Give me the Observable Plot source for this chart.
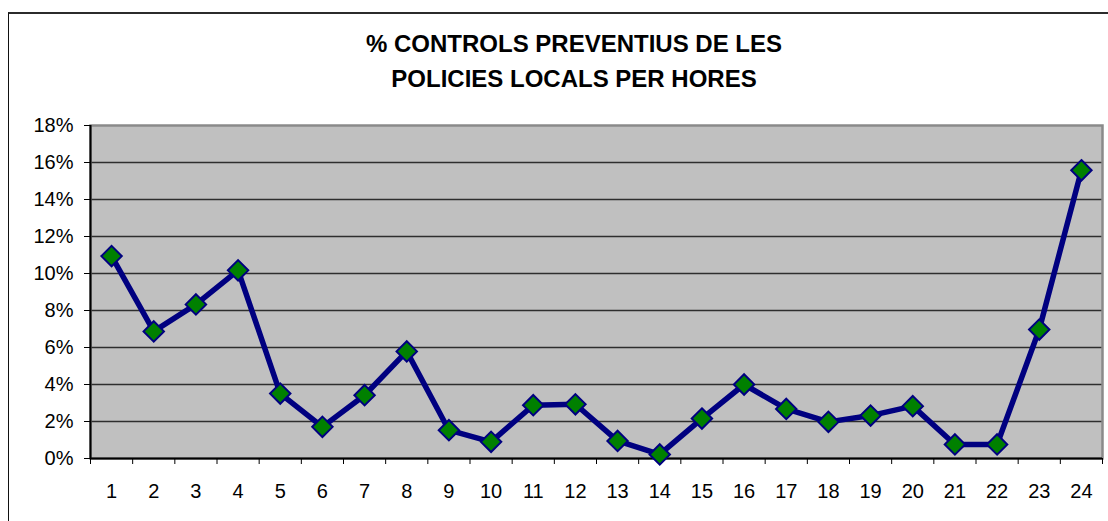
<!DOCTYPE html>
<html><head><meta charset="utf-8">
<script src="https://cdn.jsdelivr.net/npm/d3@7"></script>
<script src="https://cdn.jsdelivr.net/npm/@observablehq/plot@0.6"></script>
<style>
html,body{margin:0;padding:0;background:#fff;}
#wrap{position:relative;width:1108px;height:521px;overflow:hidden;background:#fff;font-family:"Liberation Sans",Arial,sans-serif;}
#frame{position:absolute;left:8px;top:12px;width:1300px;height:700px;border-top:2px solid #2b2b2b;border-left:1px solid #111;box-sizing:border-box;}
#title{position:absolute;left:0;width:1148px;top:26px;text-align:center;font-weight:bold;font-size:24px;line-height:35px;color:#000;}
#chart{position:absolute;left:0;top:100px;}
</style></head>
<body><div id="wrap"><div id="frame"></div><div id="title">% CONTROLS PREVENTIUS DE LES<br>POLICIES LOCALS PER HORES</div><div id="chart"></div></div>
<script>
const hours = [1,2,3,4,5,6,7,8,9,10,11,12,13,14,15,16,17,18,19,20,21,22,23,24];
const values = [10.94, 6.87, 8.33, 10.17, 3.51, 1.71, 3.42, 5.79, 1.53, 0.90, 2.88, 2.93, 0.95, 0.22, 2.16, 4.0, 2.68, 1.98, 2.32, 2.83, 0.76, 0.76, 6.97, 15.58];
const yTicks = [0,2,4,6,8,10,12,14,16,18];

const data = hours.map((h,i)=>({hour:h, value:values[i]}));
const xTickEdges = hours.map(h=>h-0.5).concat([hours[hours.length-1]+0.5]);

const chart = Plot.plot({
  width:1108, height:421,
  marginLeft:90, marginRight:6, marginTop:25, marginBottom:63,
  style:{fontFamily:'"Liberation Sans", Arial, sans-serif', fontSize:"20px", color:"#000", background:"transparent", overflow:"visible"},
  x:{domain:[0.5,24.5]},
  y:{domain:[0,18]},
  marks:[
    Plot.frame({fill:"#c0c0c0"}),
    Plot.ruleY(yTicks.filter(d=>d>0 && d<18), {stroke:"#2e2e2e", strokeWidth:1.3}),
    Plot.frame({stroke:"#8a8a8a", strokeWidth:2.5}),
    Plot.ruleX([0.5], {stroke:"#000", strokeWidth:2}),
    Plot.ruleY([0], {stroke:"#000", strokeWidth:2}),
    Plot.axisY({ticks:yTicks, tickSize:6, tickPadding:11, tickFormat:d=>d+"%", fontSize:20, label:null}),
    Plot.axisX({ticks:xTickEdges, tickSize:6, tickFormat:()=>"", label:null}),
    Plot.axisX({ticks:hours, tickSize:0, tickPadding:25, fontSize:20, label:null, tickFormat:d=>String(d)}),
    Plot.line(data,{x:"hour",y:"value",stroke:"#000080",strokeWidth:5.5, strokeLinejoin:"round"}),
    Plot.dot(data,{x:"hour",y:"value",symbol:"diamond2",r:9.2,fill:"#008000",stroke:"#000080",strokeWidth:2})
  ]
});
document.getElementById("chart").appendChild(chart);
</script>
</body></html>
